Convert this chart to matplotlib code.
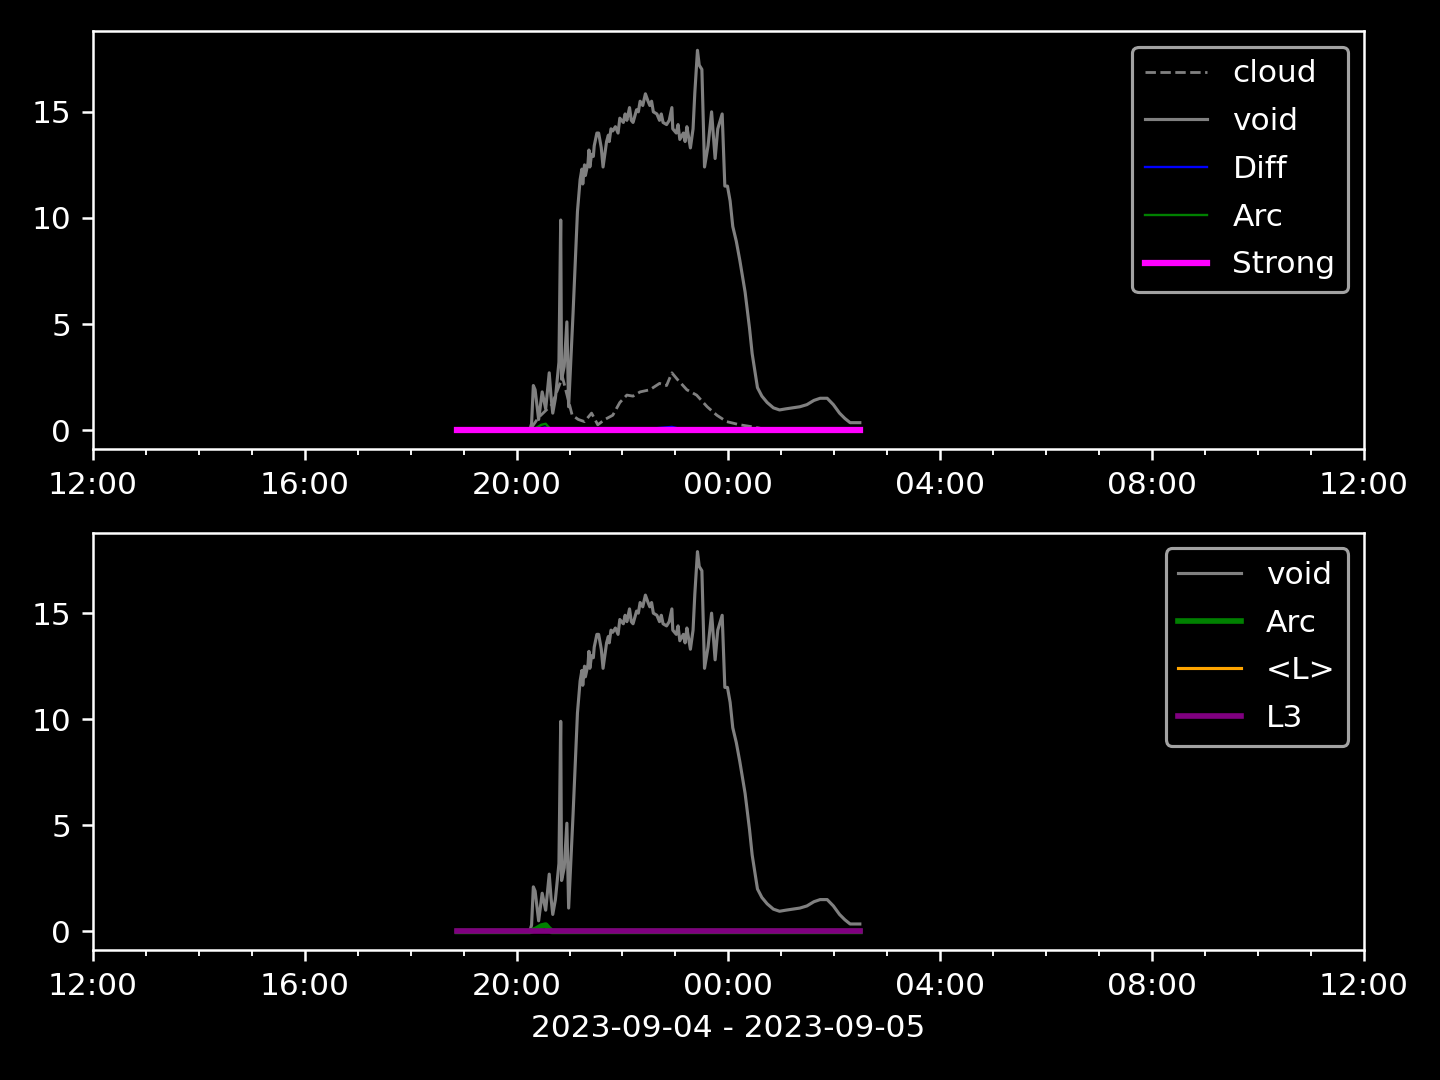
import datetime as dt
import matplotlib
matplotlib.use("Agg")
import matplotlib.pyplot as plt
import matplotlib.dates as mdates

plt.style.use("dark_background")

day = dt.datetime(2023, 9, 4)

# void (grey solid)
void_t = ["18:53", "20:15", "20:17", "20:19", "20:21", "20:23", "20:25", "20:29", "20:33",
          "20:37", "20:39", "20:41", "20:44", "20:48", "20:50", "20:51", "20:54", "20:57",
          "20:59", "21:04", "21:09", "21:12", "21:14", "21:15", "21:17", "21:18", "21:21",
          "21:22", "21:23", "21:25", "21:27", "21:28", "21:31", "21:33", "21:36", "21:38",
          "21:42", "21:44", "21:45", "21:47", "21:49", "21:52", "21:55", "21:57", "22:01",
          "22:03", "22:05", "22:08", "22:10", "22:12", "22:16", "22:18", "22:20", "22:23",
          "22:26", "22:29", "22:31", "22:33", "22:35", "22:39", "22:42", "22:44", "22:46",
          "22:50", "22:53", "22:56", "22:57", "23:01", "23:03", "23:05", "23:09", "23:11",
          "23:13", "23:15", "23:17", "23:20", "23:22", "23:25", "23:27", "23:30", "23:33",
          "23:37", "23:41", "23:45", "23:48", "23:53", "23:56", "23:59", "00:02", "00:05",
          "00:09", "00:13", "00:19", "00:24", "00:27", "00:33", "00:38", "00:44", "00:51",
          "00:58", "01:05", "01:13", "01:21", "01:29", "01:37", "01:44", "01:52", "01:59",
          "02:06", "02:12", "02:18", "02:29"]
void_v = [0.0, 0.0, 0.3, 2.1, 1.9, 1.2, 0.5, 1.8, 1.0,
          2.7, 1.6, 0.8, 1.5, 3.2, 9.9, 2.4, 3.0, 5.1,
          1.1, 5.5, 10.3, 11.8, 12.3, 11.6, 12.5, 12.0, 12.6,
          13.2, 12.4, 13.0, 12.9, 13.4, 14.0, 14.0, 13.3, 12.4,
          13.6, 13.9, 13.6, 14.2, 14.1, 14.3, 14.0, 14.7, 14.5,
          14.9, 14.6, 15.2, 14.6, 14.5, 15.1, 15.0, 15.5, 15.3,
          15.85, 15.5, 15.3, 15.5, 15.0, 14.9, 14.6, 14.9, 14.5,
          14.4, 14.6, 15.2, 14.2, 14.0, 14.4, 13.7, 14.0, 13.6,
          14.3, 13.8, 13.3, 14.2, 15.9, 17.9, 17.2, 17.0, 12.4,
          13.4, 15.0, 12.8, 14.2, 14.9, 11.5, 11.5, 10.8, 9.6,
          8.9, 8.0, 6.5, 4.8, 3.6, 2.0, 1.6, 1.3, 1.05,
          0.95, 1.0, 1.05, 1.1, 1.2, 1.4, 1.5, 1.5, 1.2,
          0.8, 0.55, 0.35, 0.35]

# cloud (grey dashed)
cloud_t = ["18:53", "20:15", "20:25", "20:40", "20:52", "21:03", "21:10", "21:17", "21:25",
           "21:32", "21:40", "21:49", "21:57", "22:05", "22:12", "22:20", "22:31", "22:42",
           "22:50", "22:56", "23:02", "23:13", "23:24", "23:36", "23:47", "23:58", "00:13",
           "00:28", "00:40", "02:29"]
cloud_v = [0.0, 0.0, 0.6, 1.2, 2.5, 0.7, 0.5, 0.4, 0.8,
           0.25, 0.5, 0.7, 1.3, 1.65, 1.6, 1.8, 1.9, 2.2,
           2.1, 2.7, 2.4, 1.9, 1.65, 1.1, 0.7, 0.4, 0.25,
           0.15, 0.05, 0.0]

# Diff (blue)
diff_t = ["18:53", "20:15", "20:20", "20:25", "20:32", "20:40", "21:10", "21:30", "22:00",
          "22:30", "22:56", "23:05", "23:40", "00:10", "00:30", "02:29"]
diff_v = [0.0, 0.0, 0.08, 0.02, 0.12, 0.03, 0.02, 0.06, 0.08,
          0.06, 0.15, 0.06, 0.08, 0.05, 0.02, 0.0]

# Arc (green)
arc_t = ["18:53", "20:15", "20:22", "20:28", "20:33", "20:36", "20:40", "02:29"]
arc_v = [0.0, 0.0, 0.1, 0.25, 0.3, 0.15, 0.0, 0.0]

# Strong, <L>, L3 (flat)
flat_t = ["18:53", "02:29"]
strong_v = [0.0, 0.0]
lmean_v = [0.0, 0.0]
l3_v = [0.0, 0.0]


def to_dt(times):
    out = []
    for s in times:
        h, m = map(int, s.split(":"))
        d = day if h >= 12 else day + dt.timedelta(days=1)
        out.append(d.replace(hour=h, minute=m))
    return out


fig, (ax1, ax2) = plt.subplots(2, 1, figsize=(6.4, 4.8), dpi=225)

ax1.plot(to_dt(cloud_t), cloud_v, "--", color="grey", lw=0.9, label="cloud")
ax1.plot(to_dt(void_t), void_v, color="grey", lw=1, label="void")
ax1.plot(to_dt(diff_t), diff_v, color="blue", lw=0.75, label="Diff")
ax1.plot(to_dt(arc_t), arc_v, color="green", lw=0.75, label="Arc")
ax1.plot(to_dt(flat_t), strong_v, color="magenta", lw=2, label="Strong")
ax1.legend(loc="upper right", labelspacing=0.6)

ax2.plot(to_dt(void_t), void_v, color="grey", lw=1, label="void")
ax2.plot(to_dt(arc_t), arc_v, color="green", lw=1.8, label="Arc")
ax2.plot(to_dt(flat_t), lmean_v, color="orange", lw=1, label="<L>")
ax2.plot(to_dt(flat_t), l3_v, color="purple", lw=1.8, label="L3")
ax2.legend(loc="upper right", labelspacing=0.6)
ax2.set_xlabel("2023-09-04 - 2023-09-05")

for ax in (ax1, ax2):
    ax.set_xlim(day.replace(hour=12), day + dt.timedelta(days=1, hours=12))
    ax.xaxis.set_major_locator(mdates.HourLocator(byhour=range(0, 24, 4)))
    ax.xaxis.set_minor_locator(mdates.HourLocator())
    ax.xaxis.set_major_formatter(mdates.DateFormatter("%H:%M"))

plt.subplots_adjust(left=0.0646, right=0.947, top=0.971, bottom=0.12, hspace=0.2)
plt.savefig("out.png", dpi=225)
